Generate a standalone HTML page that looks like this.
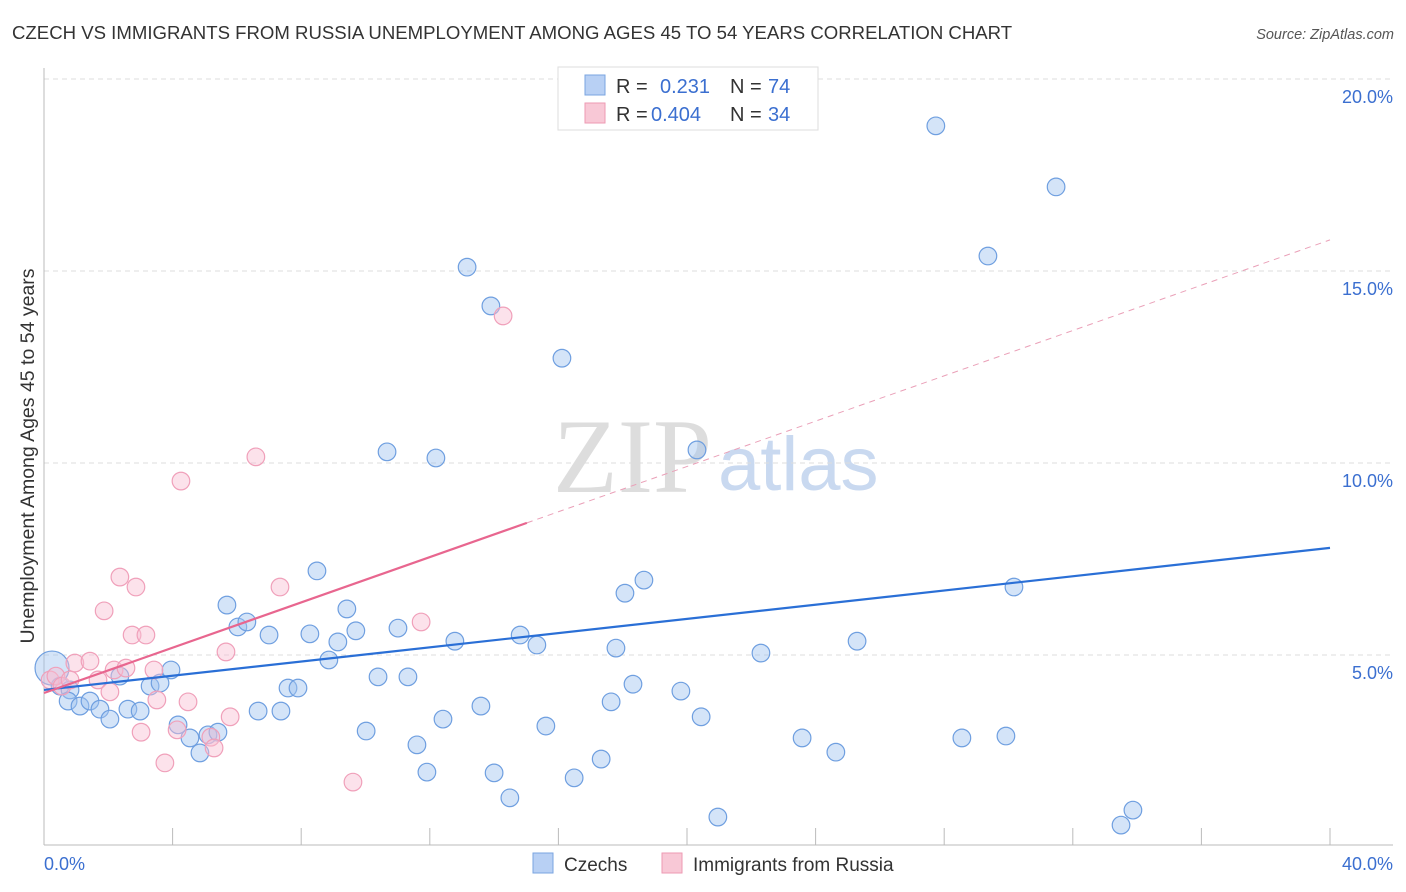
<!DOCTYPE html>
<html><head><meta charset="utf-8"><style>
body{margin:0;background:#fff;font-family:"Liberation Sans",sans-serif;}
#wrap{position:relative;width:1406px;height:892px;overflow:hidden}
</style></head><body><div id="wrap">
<svg id="svg" width="1406" height="892" xmlns="http://www.w3.org/2000/svg" style="position:absolute;left:0;top:0">
<text x="12" y="39" font-size="18.6" fill="#333">CZECH VS IMMIGRANTS FROM RUSSIA UNEMPLOYMENT AMONG AGES 45 TO 54 YEARS CORRELATION CHART</text>
<text x="1394" y="39" font-size="14.5" fill="#555" font-style="italic" text-anchor="end">Source: ZipAtlas.com</text>
<text x="0" y="0" font-size="19.5" fill="#333" text-anchor="middle" transform="translate(34,456) rotate(-90)">Unemployment Among Ages 45 to 54 years</text>
<text x="553" y="492" font-size="106" fill="#ddd" font-family="Liberation Serif,serif">ZIP</text>
<text x="718" y="490" font-size="76" fill="#c9d9f0">atlas</text>
<g id="grid"></g><g id="axes"></g><g id="pts"></g><g id="lines"></g>
<rect x="558" y="67" width="260" height="63" fill="#fff" stroke="#ddd"/>
<rect x="585" y="75" width="20" height="20" fill="#b8d0f4" stroke="#7aa4e0"/>
<rect x="585" y="103" width="20" height="20" fill="#f8c8d6" stroke="#ee9ab3"/>
<g font-size="20">
<text x="616" y="93" fill="#333">R =</text><text x="660" y="93" fill="#3b6fd0">0.231</text><text x="730" y="93" fill="#333">N =</text><text x="768" y="93" fill="#3b6fd0">74</text>
<text x="616" y="121" fill="#333">R =</text><text x="651" y="121" fill="#3b6fd0">0.404</text><text x="730" y="121" fill="#333">N =</text><text x="768" y="121" fill="#3b6fd0">34</text>
</g>
<rect x="533" y="853" width="20" height="20" fill="#b8d0f4" stroke="#7aa4e0"/>
<text x="564" y="871" font-size="19" fill="#333">Czechs</text>
<rect x="662" y="853" width="20" height="20" fill="#f8c8d6" stroke="#ee9ab3"/>
<text x="693" y="871" font-size="19" fill="#333">Immigrants from Russia</text>
<text x="44" y="870" font-size="18" fill="#3b6fd0">0.0%</text>
<text x="1393" y="870" font-size="18" fill="#3b6fd0" text-anchor="end">40.0%</text>
</svg>
<script>
const blueX=[0.25,0.5,0.81,0.75,1.12,1.43,1.74,2.05,2.36,2.61,2.99,3.3,3.61,3.95,4.17,4.54,4.85,5.1,5.41,5.69,6.03,6.31,6.66,7.0,7.37,7.59,7.9,8.27,8.49,8.86,9.14,9.42,9.7,10.02,10.39,10.67,11.01,11.32,11.6,11.91,12.19,12.41,12.78,13.16,13.59,13.9,14.0,14.49,14.81,15.33,15.61,16.11,16.49,17.33,17.64,17.79,18.07,18.32,18.66,19.81,20.31,20.44,20.96,22.3,23.58,24.63,25.29,27.74,28.55,29.36,29.92,30.17,31.48,33.5,33.87];
const blueY=[4.66,4.19,4.09,3.8,3.67,3.8,3.59,3.33,4.45,3.59,3.54,4.19,4.27,4.61,3.18,2.84,2.45,2.92,2.99,6.3,5.73,5.86,3.54,5.52,3.54,4.14,4.14,5.55,7.19,4.87,5.34,6.2,5.63,3.02,4.43,10.29,5.7,4.43,2.66,1.95,10.13,3.33,5.36,15.1,3.67,14.09,1.93,1.28,5.52,5.26,3.15,12.73,1.8,2.29,3.78,5.18,6.61,4.24,6.95,4.06,10.34,3.39,0.78,5.05,2.84,2.47,5.36,18.78,2.84,15.39,2.89,6.77,17.19,0.57,0.96];
const pinkX=[0.19,0.37,0.56,0.96,0.81,1.43,1.68,1.87,2.05,2.18,2.36,2.55,2.74,2.86,3.02,3.17,3.42,3.51,3.76,4.14,4.26,4.48,5.19,5.29,5.66,5.79,6.59,7.34,9.61,11.73,14.28];
const pinkY=[4.35,4.45,4.19,4.79,4.35,4.84,4.35,6.15,4.04,4.61,7.03,4.66,5.52,6.77,2.99,5.52,4.61,3.83,2.19,3.05,9.53,3.78,2.86,2.58,5.08,3.39,10.16,6.77,1.69,5.86,13.83];
const yTicks=[5,10,15,20];
const blueTrend=[4.09,7.79];
const pinkTrend=[4.01,0.295];
const NS="http://www.w3.org/2000/svg";
const xs=v=>44+v*32.15, ys=v=>847-v*38.4;
function mk(tag,attrs,parent){const e=document.createElementNS(NS,tag);for(const k in attrs)e.setAttribute(k,attrs[k]);document.getElementById(parent).appendChild(e);return e;}
yTicks.forEach(t=>{
  const l=mk('line',{x1:44,x2:1393,y1:ys(t),y2:ys(t),stroke:'#ddd','stroke-dasharray':'5,4'},'grid');
  
  
  const tx=mk('text',{x:1393,y:ys(t)+24,'font-size':18,fill:'#3b6fd0','text-anchor':'end'},'grid');
  tx.textContent=t.toFixed(1)+'%';
  
  
});
let a=mk('line',{x1:44,x2:44,y1:68,y2:845,stroke:'#bbb'},'axes');


a=mk('line',{x1:44,x2:1393,y1:845,y2:845,stroke:'#bbb'},'axes');


for(let i=1;i<=10;i++){const t=mk('line',{x1:xs(i*4),x2:xs(i*4),y1:828,y2:845,stroke:'#bbb'},'axes');

}
blueX.forEach((x,i)=>{const c=mk('circle',{cx:xs(x),cy:ys(blueY[i]),r:i===0?17:8.8,fill:'rgba(160,195,240,0.45)',stroke:'#6f9fe0','stroke-width':1.2},'pts');

});
pinkX.forEach((x,i)=>{const c=mk('circle',{cx:xs(x),cy:ys(pinkY[i]),r:8.8,fill:'rgba(248,190,210,0.45)',stroke:'#f0a0ba','stroke-width':1.2},'pts');

});
let l=mk('line',{x1:xs(0),y1:ys(blueTrend[0]),x2:xs(40),y2:ys(blueTrend[1]),stroke:'#2a6fd6','stroke-width':2.2},'lines');


const pe=15.02;
l=mk('line',{x1:xs(0),y1:ys(pinkTrend[0]),x2:xs(pe),y2:ys(pinkTrend[0]+pinkTrend[1]*pe),stroke:'#e8668f','stroke-width':2.2},'lines');


l=mk('line',{x1:xs(pe),y1:ys(pinkTrend[0]+pinkTrend[1]*pe),x2:xs(40),y2:ys(pinkTrend[0]+pinkTrend[1]*40),stroke:'#eaa0b8','stroke-width':1,'stroke-dasharray':'6,5'},'lines');


</script>
</div></body></html>
